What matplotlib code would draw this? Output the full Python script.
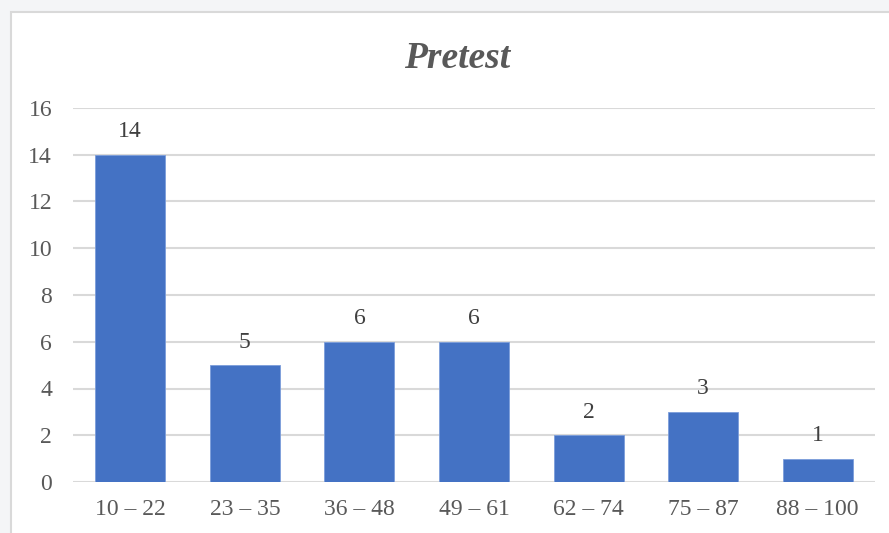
import matplotlib
matplotlib.use("Agg")
import matplotlib.pyplot as plt
from matplotlib.patches import Rectangle

categories = ["10 – 22", "23 – 35", "36 – 48", "49 – 61", "62 – 74", "75 – 87", "88 – 100"]
counts = [14, 5, 6, 6, 2, 3, 1]
yticks = [0, 2, 4, 6, 8, 10, 12, 14, 16]

W, H = 889, 533
fig = plt.figure(figsize=(W / 100, H / 100), dpi=100)
fig.patch.set_facecolor("#f4f5f7")
bg = fig.add_axes([0, 0, 1, 1], zorder=-5)
bg.set_axis_off()
bg.set_xlim(0, W)
bg.set_ylim(H, 0)
bg.add_patch(Rectangle((10.5, 11.5), W, H, facecolor="white",
                       edgecolor="#d9d9d9", linewidth=1.5))

ax = fig.add_axes([73 / W, 51 / H, (875 - 73) / W, (482 - 108) / H], zorder=1)
ax.set_facecolor("none")
txt = "#595959"
font = "Liberation Serif"

x = list(range(len(categories)))
bars = ax.bar(x, counts, width=0.61, color="#4472C4", edgecolor="#7b9ddb",
              linewidth=0.6, zorder=3)
for xi, v in zip(x, counts):
    ax.annotate(str(v), (xi, v), xytext=(0, 9), textcoords="offset points",
                ha="center", va="bottom", fontsize=17, color="#404040",
                family=font)

ax.set_xlim(-0.5, len(categories) - 0.5)
ax.set_ylim(0, 16)
ax.set_yticks(yticks)
ax.set_yticklabels([str(t) for t in yticks], family=font, fontsize=17, color=txt)
ax.set_xticks(x)
ax.set_xticklabels(categories, family=font, fontsize=17, color=txt)
ax.tick_params(axis="y", length=0, pad=15)
ax.tick_params(axis="x", length=0, pad=12)
ax.grid(axis="y", color="#d9d9d9", linewidth=1.5, zorder=0)
for s in ax.spines.values():
    s.set_visible(False)

fig.text(457 / W, 1 - 59 / H, "Pretest", ha="center", va="center",
         fontsize=27, fontweight="bold", fontstyle="italic", family=font,
         color=txt)

fig.savefig("out.png", dpi=100, facecolor=fig.get_facecolor())
